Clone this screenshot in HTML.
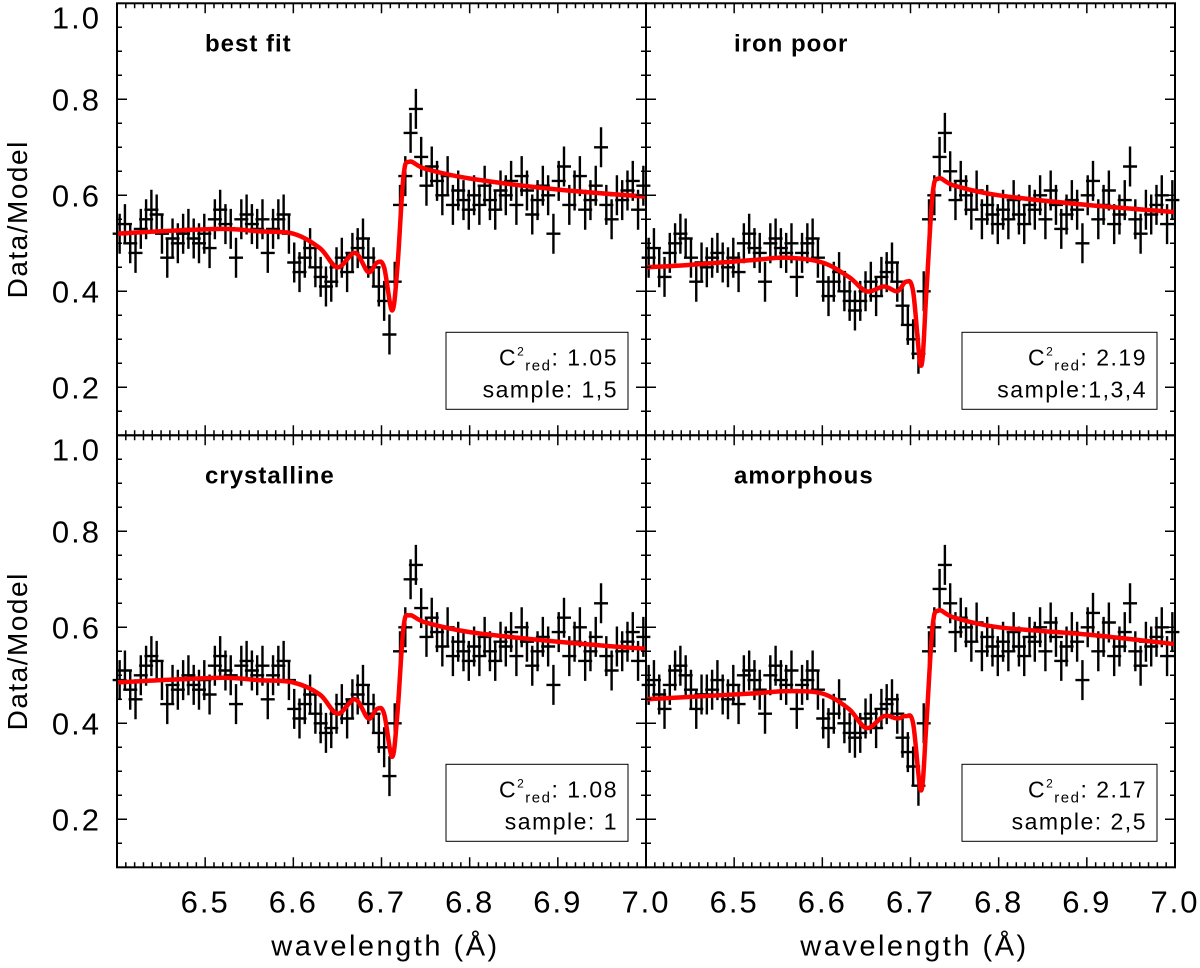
<!DOCTYPE html>
<html><head><meta charset="utf-8"><style>
body{margin:0;background:#fff}
svg{display:block;font-family:"Liberation Sans",sans-serif}
</style></head><body>
<svg id="chart" width="1200" height="968" viewBox="0 0 1200 968" xmlns="http://www.w3.org/2000/svg"></svg>
<script>
const xTicks=[6.5,6.6,6.7,6.8,6.9,7.0];
const yTicks=[0.2,0.4,0.6,0.8,1.0];
const binStart=6.403, binStep=0.006;
const modelX=[6.40,6.45,6.52,6.56,6.60,6.63,6.65,6.67,6.685,6.695,6.703,6.712,6.718,6.725,6.732,6.75,6.80,6.90,7.00];
const modelBest=[0.52,0.525,0.53,0.525,0.52,0.49,0.45,0.48,0.44,0.46,0.45,0.36,0.45,0.64,0.67,0.655,0.635,0.612,0.597];
const modelIron=[0.45,0.455,0.465,0.47,0.46,0.43,0.40,0.41,0.40,0.42,0.40,0.245,0.40,0.60,0.635,0.62,0.60,0.58,0.565];
const modelCryst=[0.485,0.49,0.495,0.49,0.485,0.46,0.42,0.45,0.41,0.43,0.42,0.33,0.42,0.60,0.625,0.61,0.59,0.57,0.555];
const modelAmorph=[0.45,0.455,0.462,0.467,0.462,0.43,0.39,0.415,0.41,0.415,0.40,0.26,0.40,0.60,0.635,0.62,0.60,0.585,0.565];
const dataBest=[0.52,0.54,0.50,0.48,0.53,0.55,0.57,0.56,0.52,0.47,0.51,0.50,0.52,0.53,0.51,0.50,0.52,0.49,0.55,0.57,0.54,0.53,0.47,0.55,0.56,0.54,0.53,0.55,0.48,0.53,0.55,0.56,0.52,
0.46,0.44,0.47,0.49,0.45,0.43,0.41,0.42,0.45,0.47,0.44,0.48,
0.49,0.51,0.47,0.45,0.41,0.38,0.31,
0.42,0.58,0.64,0.73,0.78,
0.68,0.62,0.66,0.63,0.60,0.64,0.58,0.61,0.59,
0.57,0.60,0.58,0.62,0.59,0.57,0.61,0.60,0.63,0.58,0.64,0.61,0.56,0.59,0.62,0.60,0.52,0.63,0.66,0.58,0.61,0.64,0.57,0.59,0.62,0.70,0.58,0.55,0.60,0.59,0.61,0.63,0.57,0.62];
const dataIron=[0.47,0.49,0.45,0.43,0.48,0.50,0.52,0.51,0.47,0.42,0.46,0.45,0.47,0.48,0.46,0.45,0.47,0.44,0.50,0.52,0.49,0.48,0.42,0.50,0.51,0.49,0.48,0.50,0.43,0.48,0.50,0.51,0.47,
0.42,0.39,0.42,0.44,0.40,0.38,0.36,0.38,0.40,0.42,0.39,0.43,
0.44,0.46,0.42,0.37,0.33,0.30,0.27,
0.40,0.55,0.60,0.68,0.73,
0.65,0.59,0.63,0.60,0.57,0.61,0.55,0.58,0.56,
0.54,0.57,0.55,0.59,0.56,0.54,0.58,0.57,0.60,0.55,0.61,0.58,0.53,0.56,0.59,0.57,0.50,0.60,0.63,0.55,0.58,0.61,0.54,0.56,0.59,0.66,0.55,0.52,0.57,0.56,0.58,0.60,0.54,0.59];
const dataCryst=[0.49,0.51,0.47,0.45,0.50,0.52,0.54,0.53,0.49,0.44,0.48,0.47,0.49,0.50,0.48,0.47,0.49,0.46,0.52,0.54,0.51,0.50,0.44,0.52,0.53,0.51,0.50,0.52,0.45,0.50,0.52,0.53,0.49,
0.43,0.41,0.44,0.46,0.42,0.40,0.38,0.39,0.42,0.44,0.41,0.45,
0.46,0.48,0.44,0.42,0.38,0.35,0.29,
0.40,0.55,0.60,0.70,0.73,
0.64,0.58,0.62,0.59,0.56,0.60,0.54,0.57,0.55,
0.53,0.56,0.54,0.58,0.55,0.53,0.57,0.56,0.59,0.54,0.60,0.57,0.52,0.55,0.58,0.56,0.48,0.59,0.62,0.54,0.57,0.60,0.53,0.55,0.58,0.65,0.54,0.51,0.56,0.55,0.57,0.59,0.53,0.58];
const dataAmorph=[0.48,0.49,0.46,0.43,0.48,0.51,0.52,0.50,0.47,0.43,0.46,0.46,0.47,0.49,0.46,0.45,0.48,0.44,0.50,0.51,0.49,0.47,0.42,0.50,0.52,0.49,0.48,0.51,0.43,0.48,0.49,0.51,0.47,
0.41,0.39,0.42,0.45,0.40,0.38,0.37,0.38,0.41,0.42,0.39,0.43,
0.44,0.45,0.42,0.37,0.34,0.31,0.27,
0.40,0.55,0.60,0.68,0.73,
0.65,0.59,0.62,0.60,0.57,0.61,0.55,0.58,0.56,
0.54,0.57,0.55,0.59,0.56,0.54,0.58,0.57,0.60,0.55,0.61,0.58,0.53,0.56,0.59,0.57,0.49,0.60,0.63,0.55,0.58,0.61,0.54,0.56,0.59,0.65,0.55,0.52,0.57,0.56,0.58,0.60,0.54,0.59];
const panelTitles=["best fit","iron poor","crystalline","amorphous"];
const chiValues=["1.05","2.19","1.08","2.17"];
const sampleValues=["sample:  1,5","sample:1,3,4","sample:  1","sample:  2,5"];

const svg=document.getElementById('chart');
const NS="http://www.w3.org/2000/svg";
function mk(tag,attrs,parent){const e=document.createElementNS(NS,tag);for(const k in attrs)e.setAttribute(k,attrs[k]);(parent||svg).appendChild(e);return e;}
function smoothPath(P){let d=`M${P[0][0].toFixed(1)},${P[0][1].toFixed(1)}`;
 for(let i=0;i<P.length-1;i++){const p0=P[Math.max(i-1,0)],p1=P[i],p2=P[i+1],p3=P[Math.min(i+2,P.length-1)];
  const c1=[p1[0]+(p2[0]-p0[0])/6,p1[1]+(p2[1]-p0[1])/6],c2=[p2[0]-(p3[0]-p1[0])/6,p2[1]-(p3[1]-p1[1])/6];
  d+=`C${c1[0].toFixed(1)},${c1[1].toFixed(1)} ${c2[0].toFixed(1)},${c2[1].toFixed(1)} ${p2[0].toFixed(1)},${p2[1].toFixed(1)}`;}
 return d;}
const W=529, H=432, XMIN=6.4, XMAX=7.0, YMIN=0.1, YMAX=1.0;
const panels=[
 {x0:117,y0:3.3,data:dataBest,model:modelBest,left:true,bottom:false},
 {x0:646,y0:3.3,data:dataIron,model:modelIron,left:false,bottom:false},
 {x0:117,y0:435.3,data:dataCryst,model:modelCryst,left:true,bottom:true},
 {x0:646,y0:435.3,data:dataAmorph,model:modelAmorph,left:false,bottom:true}];
panels.forEach((p,pi)=>{
 const g=mk('g',{});
 
 
 const sx=v=>p.x0+(v-XMIN)/(XMAX-XMIN)*W;
 const sy=v=>p.y0+(YMAX-v)/(YMAX-YMIN)*H;
 const dg=mk('g',{stroke:'#000','stroke-width':2.4},g);
 
 
 p.data.forEach((v,i)=>{
  const wl=binStart+i*binStep;
  const cx=sx(wl), cy=sy(v);
  const c=mk('path',{d:`M${cx-7},${cy}H${cx+7}M${cx},${cy-20}V${cy+20}`},dg);
  
  
 });
 const P=modelX.map((x,i)=>[sx(x),sy(p.model[i])]);
 const ml=mk('path',{d:smoothPath(P),fill:'none',stroke:'#ff0000','stroke-width':4.5,'stroke-linejoin':'round'},g);
 
 
 const fr=mk('rect',{x:p.x0,y:p.y0,width:W,height:H,fill:'none',stroke:'#000','stroke-width':2},g);
 
 
 const tg=mk('g',{stroke:'#000','stroke-width':1.5},g);
 
 
 let d='';
 for(let k=641;k<=700;k++){const v=k/100;const x=sx(v);const L=(k%10===0)?10:5;
  d+=`M${x},${p.y0+H}v${-L}M${x},${p.y0}v${L}`;}
 for(let k=2;k<=20;k++){const v=k*0.05;if(v>1.0001)break;const y=sy(v);const L=(k%4===0)?10:5;
  d+=`M${p.x0},${y}h${L}M${p.x0+W},${y}h${-L}`;}
 mk('path',{d:d},tg);
 if(p.left){yTicks.forEach(v=>{const off=v>0.99?14:0;const t=mk('text',{x:p.x0-16,y:sy(v)+11+off,'text-anchor':'end','font-size':31,'letter-spacing':2},g);t.textContent=v.toFixed(1);
   });
  const yt=mk('text',{x:27,y:p.y0+H/2,'text-anchor':'middle','font-size':28,'letter-spacing':1.5,transform:`rotate(-90 27 ${p.y0+H/2})`},g);yt.textContent='Data/Model';
  }
 if(p.bottom){xTicks.forEach(v=>{const t=mk('text',{x:sx(v),y:p.y0+H+45,'text-anchor':'middle','font-size':31,'letter-spacing':2},g);t.textContent=v.toFixed(1);
   });
  const xt=mk('text',{x:p.x0+W/2+4,y:p.y0+H+88,'text-anchor':'middle','font-size':29,'letter-spacing':2.5},g);xt.textContent='wavelength (Å)';
  }
 const tt=mk('text',{x:p.x0+88,y:p.y0+48,'font-size':24,'font-weight':'bold','letter-spacing':1},g);tt.textContent=panelTitles[pi];
 
 const bx=p.left?p.x0+329:p.x0+316, bw=p.left?182:195, by=p.y0+329;
 const bxr=mk('rect',{x:bx,y:by,width:bw,height:77,fill:'#fff',stroke:'#000','stroke-width':1},g);
 
 const t1=mk('text',{x:bx+bw-10,y:by+33,'text-anchor':'end','font-size':23,'letter-spacing':1.5},g);
 t1.innerHTML='C<tspan dy="-10" font-size="12">2</tspan><tspan dy="15" font-size="15">red</tspan><tspan dy="-5">:  '+chiValues[pi]+'</tspan>';
 
 const t2=mk('text',{x:bx+bw-10,y:by+65,'text-anchor':'end','font-size':23,'letter-spacing':1.5},g);t2.textContent=sampleValues[pi];
 
});
</script>
</body></html>
